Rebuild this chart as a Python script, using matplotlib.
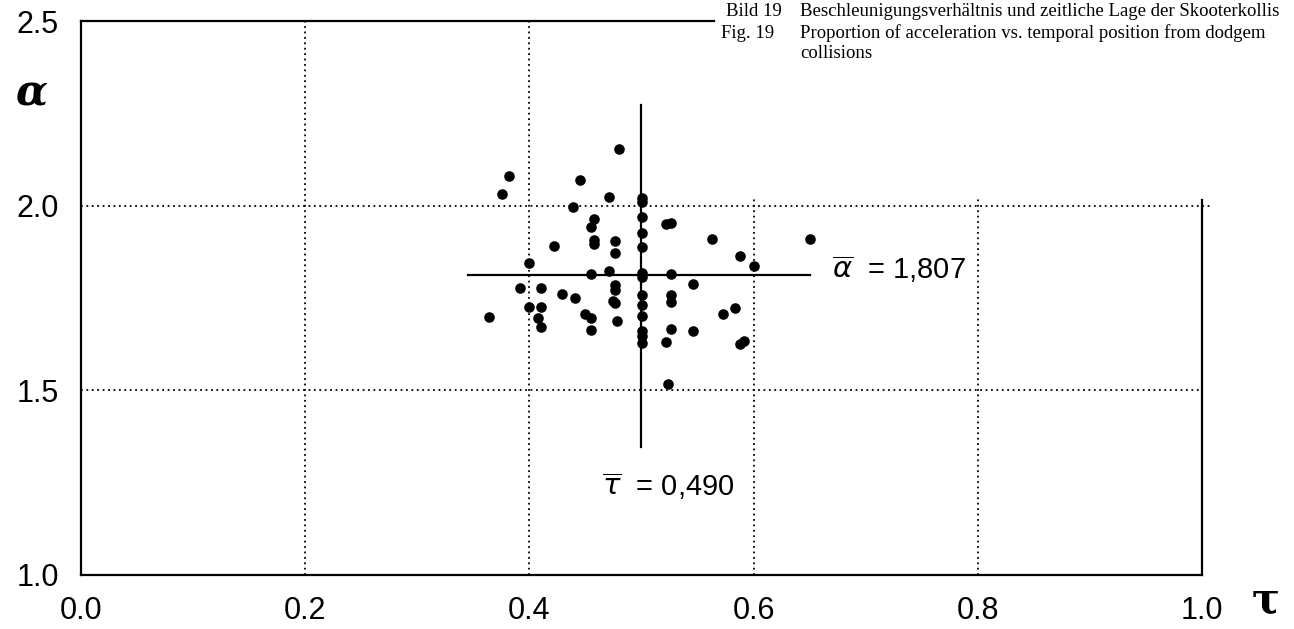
import matplotlib
matplotlib.use('Agg')
import matplotlib.pyplot as plt

# tau (temporal position) and alpha (acceleration ratio) of each collision
tau = [0.364, 0.376, 0.382, 0.392, 0.400, 0.400, 0.408, 0.410, 0.410, 0.410,
       0.422, 0.429, 0.439, 0.441, 0.445, 0.450, 0.455, 0.455, 0.455, 0.458,
       0.458, 0.458, 0.455, 0.471, 0.471, 0.476, 0.476, 0.476, 0.476, 0.475,
       0.476, 0.478, 0.480,
       0.500, 0.500, 0.500, 0.500, 0.500, 0.500, 0.500, 0.500, 0.500, 0.500,
       0.500, 0.500, 0.500,
       0.5215, 0.526, 0.526, 0.526, 0.526, 0.526, 0.5215, 0.524, 0.5455, 0.5455,
       0.5625, 0.5725, 0.583, 0.588, 0.588, 0.591, 0.600, 0.650]
alpha = [1.699, 2.031, 2.081, 1.778, 1.846, 1.725, 1.695, 1.778, 1.725, 1.672,
         1.891, 1.760, 1.996, 1.749, 2.069, 1.706, 1.697, 1.663, 1.943, 1.964,
         1.907, 1.896, 1.814, 2.023, 1.824, 1.905, 1.871, 1.785, 1.772, 1.742,
         1.737, 1.688, 2.153,
         2.020, 2.011, 1.969, 1.927, 1.889, 1.817, 1.808, 1.759, 1.732, 1.700,
         1.660, 1.646, 1.628,
         1.950, 1.952, 1.815, 1.758, 1.740, 1.665, 1.630, 1.516, 1.787, 1.661,
         1.909, 1.707, 1.722, 1.864, 1.625, 1.634, 1.837, 1.909]

tau_mean = 0.490
alpha_mean = 1.807
# where the mean cross is drawn in the original figure
tau_line = 0.4995
alpha_line = 1.813

xticks = [0.0, 0.2, 0.4, 0.6, 0.8, 1.0]
yticks = [1.0, 1.5, 2.0, 2.5]

fig = plt.figure(figsize=(12.94, 6.29), dpi=100)
ax = fig.add_axes([81/1294, 1 - 575/629, 1121/1294, 554/629])
ax.set_xlim(0, 1)
ax.set_ylim(1, 2.5)

for s in ['top', 'right']:
    ax.spines[s].set_visible(False)
for s in ['left', 'bottom']:
    ax.spines[s].set_linewidth(1.6)

# partial frame (caption sits in the upper right corner)
ax.plot([0, 0.565], [2.5, 2.5], color='black', lw=1.6, clip_on=False)
ax.plot([1.0, 1.0], [1.0, 2.015], color='black', lw=1.6, clip_on=False)

# dotted grid
dot = dict(color='black', lw=1.3, ls=(0, (1, 2)), zorder=1)
ax.plot([0, 1.007], [2.0, 2.0], clip_on=False, **dot)
ax.plot([0, 1.0], [1.5, 1.5], **dot)
for xv in [0.2, 0.4]:
    ax.plot([xv, xv], [1.0, 2.5], **dot)
for xv in [0.6, 0.8]:
    ax.plot([xv, xv], [1.0, 2.02], **dot)

ax.scatter(tau, alpha, s=58, color='black', zorder=3, linewidths=0)

# mean cross
ax.plot([0.345, 0.650], [alpha_line, alpha_line], color='black', lw=1.6, zorder=2)
ax.plot([tau_line, tau_line], [1.346, 2.273], color='black', lw=1.6, zorder=2)

ax.text(0.6695, 1.827, r'$\overline{\alpha}$  = ' + f'{alpha_mean:.3f}'.replace('.', ','),
        fontsize=21, family='Liberation Sans', va='center', ha='left')
ax.text(0.465, 1.241, r'$\overline{\tau}$  = ' + f'{tau_mean:.3f}'.replace('.', ','),
        fontsize=21, family='Liberation Sans', va='center', ha='left')

ax.set_xticks(xticks)
ax.set_yticks(yticks)
ax.set_xticklabels([f'{v:.1f}' for v in xticks], fontsize=22, family='Liberation Sans')
ax.set_yticklabels([f'{v:.1f}' for v in yticks], fontsize=22, family='Liberation Sans')
ax.tick_params(axis='both', length=0)
ax.tick_params(axis='x', pad=15)
ax.tick_params(axis='y', pad=16)

fig.text(31/1294, 1 - 93/629, 'α', fontsize=30, family='DejaVu Serif', style='italic',
         weight='bold', ha='center', va='center')
fig.text(1266/1294, 1 - 601/629, 'τ', fontsize=30, family='DejaVu Serif', weight='bold',
         ha='center', va='center')

cap = dict(fontsize=13.5, family='Liberation Serif', va='center', ha='left')
fig.text(726/1294, 1 - 12/629, 'Bild 19', **cap)
fig.text(800/1294, 1 - 12/629, 'Beschleunigungsverhältnis und zeitliche Lage der Skooterkollis', **cap)
fig.text(721/1294, 1 - 33/629, 'Fig. 19', **cap)
fig.text(800/1294, 1 - 33/629, 'Proportion of acceleration vs. temporal position from dodgem', **cap)
fig.text(800/1294, 1 - 54/629, 'collisions', **cap)

fig.savefig('out.png', dpi=100)
